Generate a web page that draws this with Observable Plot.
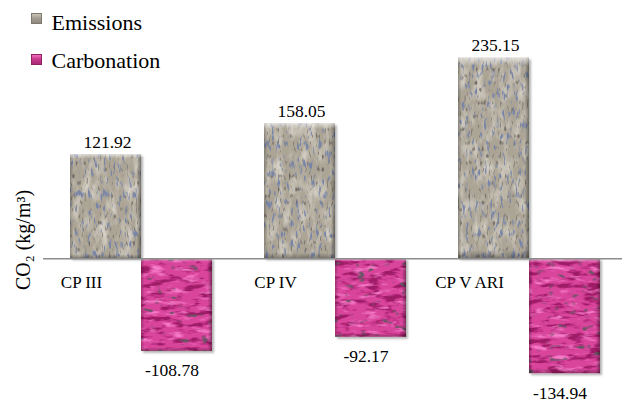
<!DOCTYPE html>
<html>
<head>
<meta charset="utf-8">
<script src="https://cdn.jsdelivr.net/npm/d3@7"></script>
<script src="https://cdn.jsdelivr.net/npm/@observablehq/plot@0.6"></script>
<style>
  html, body { margin: 0; padding: 0; background: #fff; }
  #chart { position: relative; width: 622px; height: 402px; font-family: "Liberation Serif", "Times New Roman", serif; }
  #chart svg { display: block; }
  .legend-item { position: absolute; font-size: 22px; line-height: 22px; color: #000; white-space: nowrap; }
  .swatch { position: absolute; width: 11px; height: 11px; box-sizing: border-box; }
  .swatch.stone { background: linear-gradient(180deg, #c9c3b8 0%, #a39d92 45%, #8f897f 100%); border: 1px solid #7e786e; }
  .swatch.granite { background: linear-gradient(180deg, #ef6fb9 0%, #c93a8c 45%, #a92a74 100%); border: 1px solid #8e2463; }
</style>
</head>
<body>
<div id="chart"></div>
<script>
// Cement types and their CO2 balance (kg per m³ of concrete)
const categories = ["CP III", "CP IV", "CP V ARI"];
const emissions = [121.92, 158.05, 235.15];
const carbonation = [-108.78, -92.17, -134.94];
const seriesNames = ["Emissions", "Carbonation"];
const yLabel = "CO₂ (kg/m³)";

const emRows = categories.map((c, i) => ({cement: c, series: seriesNames[0], value: emissions[i]}));
const caRows = categories.map((c, i) => ({cement: c, series: seriesNames[1], value: carbonation[i]}));

const half = 71; // each bar takes half of its cement's band
const font = "'Liberation Serif', 'Times New Roman', serif";

const chart = Plot.plot({
  width: 622,
  height: 402,
  marginLeft: 43,
  marginRight: 0,
  marginTop: 45,
  marginBottom: 16,
  style: {fontFamily: font, background: "white", overflow: "visible"},
  x: {domain: categories, paddingInner: 0.27, paddingOuter: 0.12, align: 0.55, axis: null},
  y: {domain: [-150, 250], axis: null},
  marks: [
    // textured bars
    Plot.barY(emRows, {x: "cement", y: "value", insetRight: half, fill: "url(#stone)", ariaDescription: "textured"}),
    Plot.barY(caRows, {x: "cement", y: "value", insetLeft: half, fill: "url(#granite)", ariaDescription: "textured"}),
    // bevel overlays
    Plot.barY(emRows, {x: "cement", y: "value", insetRight: half, fill: "url(#edgeH)"}),
    Plot.barY(emRows, {x: "cement", y: "value", insetRight: half, fill: "url(#edgeV)"}),
    Plot.barY(caRows, {x: "cement", y: "value", insetLeft: half, fill: "url(#edgeH)"}),
    Plot.barY(caRows, {x: "cement", y: "value", insetLeft: half, fill: "url(#edgeV)"}),
    // zero line
    Plot.ruleY([0], {stroke: "#8c8c8c", strokeWidth: 1.5}),
    // value labels
    Plot.text(emRows, {x: "cement", y: "value", text: d => d.value.toFixed(2), dx: -half / 2 + 1.5, dy: -7,
      lineAnchor: "bottom", fontSize: 17.5, fill: "#000"}),
    Plot.text(caRows, {x: "cement", y: "value", text: d => d.value.toFixed(2), dx: half / 2 - 5, dy: 25,
      lineAnchor: "bottom", fontSize: 17.5, fill: "#000"}),
    // cement labels under the zero line
    Plot.text(categories, {x: d => d, y: () => 0, text: d => d, dx: -60, dy: 29,
      lineAnchor: "bottom", fontSize: 17, fill: "#000"}),
    // y axis title
    Plot.text([yLabel], {frameAnchor: "left", text: d => d, rotate: -90, dx: -14, dy: 24,
      lineAnchor: "bottom", textAnchor: "middle", fontSize: 20, fill: "#000"})
  ]
});

// textures and bevel definitions
const defs = `
<filter id="stoneNoise" filterUnits="userSpaceOnUse" x="0" y="0" width="622" height="402" color-interpolation-filters="sRGB">
  <feTurbulence type="fractalNoise" baseFrequency="0.12 0.05" numOctaves="3" seed="2" result="cloud"/>
  <feColorMatrix in="cloud" type="matrix" values="0 0 0 0 0.84  0 0 0 0 0.82  0 0 0 0 0.78  0 2.2 0 0 -0.9" result="light"/>
  <feTurbulence type="fractalNoise" baseFrequency="0.32 0.1" numOctaves="2" seed="7" result="speck"/>
  <feColorMatrix in="speck" type="matrix" values="0 0 0 0 0.47  0 0 0 0 0.52  0 0 0 0 0.66  -6 0 0 0 2.5" result="blue"/>
  <feTurbulence type="fractalNoise" baseFrequency="0.45 0.15" numOctaves="1" seed="11" result="fine"/>
  <feColorMatrix in="fine" type="matrix" values="0 0 0 0 0.40  0 0 0 0 0.38  0 0 0 0 0.36  0 0 -5 0 1.95" result="dark"/>
  <feMerge><feMergeNode in="light"/><feMergeNode in="dark"/><feMergeNode in="blue"/></feMerge>
</filter>
<filter id="graniteNoise" filterUnits="userSpaceOnUse" x="0" y="0" width="622" height="402" color-interpolation-filters="sRGB">
  <feTurbulence type="fractalNoise" baseFrequency="0.06 0.18" numOctaves="3" seed="4" result="streak"/>
  <feColorMatrix in="streak" type="matrix" values="0 0 0 0 0.62  0 0 0 0 0.10  0 0 0 0 0.40  -5 0 0 0 2.55" result="deep"/>
  <feColorMatrix in="streak" type="matrix" values="0 0 0 0 0.96  0 0 0 0 0.48  0 0 0 0 0.78  0 4 0 0 -2.2" result="glow"/>
  <feTurbulence type="fractalNoise" baseFrequency="0.09 0.16" numOctaves="2" seed="9" result="blot"/>
  <feColorMatrix in="blot" type="matrix" values="0 0 0 0 0.42  0 0 0 0 0.33  0 0 0 0 0.40  0 0 -7 0 2.45" result="spot"/>
  <feMerge><feMergeNode in="deep"/><feMergeNode in="glow"/><feMergeNode in="spot"/></feMerge>
</filter>
<pattern id="stone" patternUnits="userSpaceOnUse" x="0" y="0" width="622" height="402">
  <rect width="622" height="402" fill="#aca596"/>
  <rect width="622" height="402" fill="#000" filter="url(#stoneNoise)"/>
</pattern>
<pattern id="granite" patternUnits="userSpaceOnUse" x="0" y="0" width="622" height="402">
  <rect width="622" height="402" fill="#d9449b"/>
  <rect width="622" height="402" fill="#000" filter="url(#graniteNoise)"/>
</pattern>
<linearGradient id="edgeH" x1="0" x2="1" y1="0" y2="0">
  <stop offset="0" stop-color="#000" stop-opacity="0.25"/>
  <stop offset="0.05" stop-color="#000" stop-opacity="0"/>
  <stop offset="0.94" stop-color="#000" stop-opacity="0"/>
  <stop offset="1" stop-color="#000" stop-opacity="0.4"/>
</linearGradient>
<linearGradient id="edgeV" x1="0" x2="0" y1="0" y2="1">
  <stop offset="0" stop-color="#fff" stop-opacity="0.6"/>
  <stop offset="0.04" stop-color="#fff" stop-opacity="0"/>
  <stop offset="0.96" stop-color="#000" stop-opacity="0"/>
  <stop offset="1" stop-color="#000" stop-opacity="0.3"/>
</linearGradient>
<filter id="barShade" x="-10%" y="-10%" width="130%" height="130%">
  <feDropShadow dx="2" dy="2" stdDeviation="1.2" flood-color="#000" flood-opacity="0.3"/>
</filter>`;

const svg = d3.select(chart);
svg.insert("defs", ":first-child").html(defs);
svg.selectAll('g[aria-description="textured"]').attr("filter", "url(#barShade)");

const root = document.getElementById("chart");
root.appendChild(chart);

// legend in the upper-left corner
const legend = [
  {name: seriesNames[0], cls: "stone", swTop: 13, textTop: 11.6},
  {name: seriesNames[1], cls: "granite", swTop: 54, textTop: 49.6}
];
legend.forEach(l => {
  const sw = document.createElement("div");
  sw.className = "swatch " + l.cls;
  sw.style.left = "31px";
  sw.style.top = l.swTop + "px";
  root.appendChild(sw);
  const t = document.createElement("div");
  t.className = "legend-item";
  t.style.left = "51.5px";
  t.style.top = l.textTop + "px";
  t.textContent = l.name;
  root.appendChild(t);
});
</script>
</body>
</html>
